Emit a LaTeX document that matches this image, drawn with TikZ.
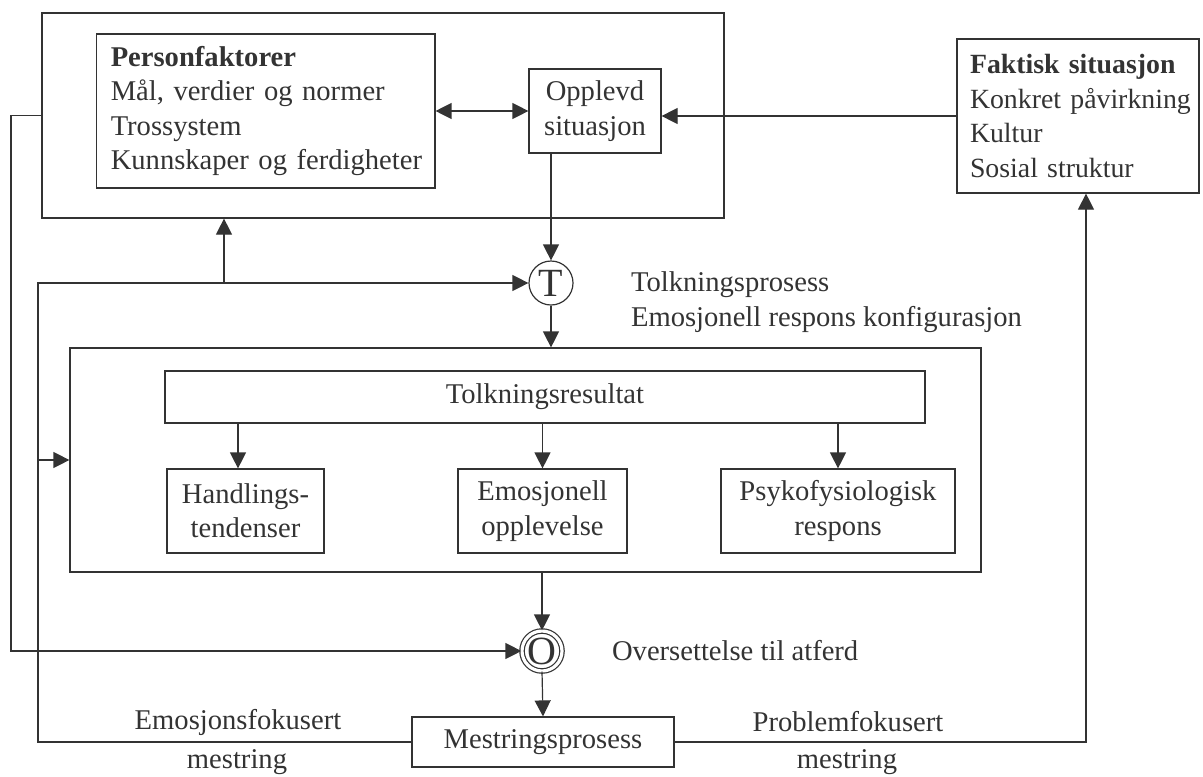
\documentclass[tikz,border=0pt]{standalone}
\usepackage{fontspec}
\setmainfont{Liberation Serif}
\usetikzlibrary{arrows.meta}
\definecolor{ink}{HTML}{333333}
\tikzset{every node/.style={font=\fontsize{14.3}{17.2}\selectfont,text=ink},line cap=round,line join=round}

\begin{document}
\begin{tikzpicture}[x=0.5pt,y=-0.5pt,
    box/.style={draw=ink,line width=0.6pt,inner sep=0pt},
    ring/.style={circle,draw=ink,line width=0.6pt,inner sep=0pt,font=\fontsize{20}{20}\selectfont},
    arr/.style={draw=ink,line width=0.6pt,-{Triangle[length=8pt,width=8pt]}},
    link/.style={draw=ink,line width=0.6pt}]
  \path[use as bounding box] (0,0) rectangle (1203,776);
  % person and situation
  \node[box,minimum width=341pt,minimum height=102.5pt] (person) at (383,115.5) {};
  \node[box,text width=155pt,inner xsep=7.1pt,minimum height=77pt,align=left] (pfak) at (265.75,111)
    {\mbox{\textbf{Personfaktorer}}\\\mbox{Mål, verdier og normer}\\\mbox{Trossystem}\\\mbox{Kunnskaper og ferdigheter}};
  \node[box,minimum width=66pt,minimum height=42pt,align=center] (opp) at (595,111) {Opplevd\\situasjon};
  \node[box,text width=108pt,inner xsep=6.5pt,minimum height=77pt,align=left,font=\fontsize{13.9}{17.2}\selectfont] (fakt) at (1078,116)
    {\mbox{\textbf{Faktisk situasjon}}\\\mbox{Konkret påvirkning}\\\mbox{Kultur}\\\mbox{Sosial struktur}};
  % interpretation
  \node[ring,minimum size=22pt] (T) at (551,283) {T};
  \node[anchor=west] (tproc) at (624,285) {Tolkningsprosess};
  \node[anchor=west] (tconf) at (624,320) {Emosjonell respons konfigurasjon};
  \node[box,minimum width=455.5pt,minimum height=112pt] (resp) at (525.5,460) {};
  \node[box,minimum width=380pt,minimum height=26pt] (tres) at (545,397) {Tolkningsresultat};
  \node[box,minimum width=78.5pt,minimum height=42pt,align=center] (hand) at (245.5,511) {Handlings-\\tendenser};
  \node[box,minimum width=84.5pt,minimum height=42pt,align=center] (emo) at (542.5,511) {Emosjonell\\opplevelse};
  \node[box,minimum width=117pt,minimum height=42pt,align=center] (psy) at (838,511) {Psykofysiologisk\\respons};
  % behaviour and coping
  \node[ring,double=white,double distance=1.6pt,minimum size=20pt] (O) at (542,651) {O};
  \node[anchor=west] (oset) at (605,651) {Oversettelse til atferd};
  \node[box,minimum width=131pt,minimum height=25pt] (mest) at (543,742) {Mestringsprosess};
  \node (efok) at (238,722) {Emosjonsfokusert};
  \node (emest) at (237,762) {mestring};
  \node (pfok) at (848,722) {Problemfokusert};
  \node (pmest) at (847,762) {mestring};
  \coordinate (xl) at (11,0);
  \coordinate (xm) at (38,0);
  \coordinate (xh) at (238,0);
  \coordinate (xu) at (224,283);
  \coordinate (xr) at (1086,0);
  % connectors
  \draw[arr,{Triangle[length=8pt,width=8pt]}-{Triangle[length=8pt,width=8pt]}] (pfak.east) -- (opp.west);
  \draw[arr] (fakt.west) -- (fakt.west -| opp.east);
  \draw[arr] (opp.south -| T) -- (T.north);
  \draw[arr] (T.south) -- (T.south |- resp.north);
  \draw[arr] (tres.south -| xh) -- (xh |- hand.north);
  \draw[arr] (tres.south -| emo) -- (emo.north);
  \draw[arr] (tres.south -| psy) -- (psy.north);
  \draw[arr] (resp.south -| O) -- (O.north);
  \draw[arr] (O.south) -- (mest.north);
  \draw[arr] (person.west) -- (person.west -| xl) |- (O.west);
  \draw[arr] (mest.west) -| (xm |- T) -- (T.west);
  \draw[arr] (xm |- resp.west) -- (resp.west);
  \draw[arr] (xu) -- (xu |- person.south);
  \draw[arr] (mest.east) -| (xr |- fakt.south);
\end{tikzpicture}
\end{document}
